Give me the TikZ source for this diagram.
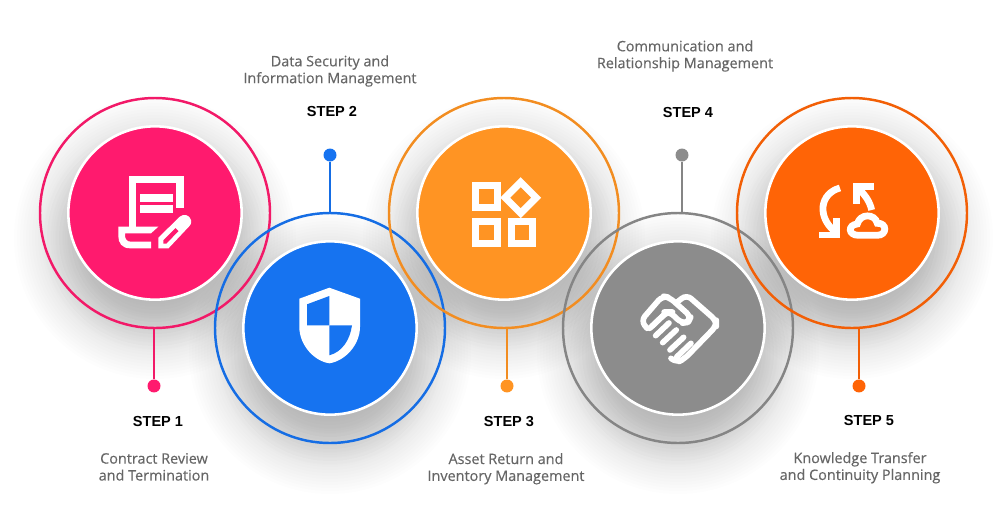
\documentclass[tikz,border=0pt]{standalone}
\usepackage{xcolor}
\usepackage{fontspec}
\setmainfont{Liberation Sans}
\newfontfamily\descfont{Open Sans}
\usetikzlibrary{positioning}
\definecolor{cpink}{HTML}{FF1A6E}
\definecolor{cblue}{HTML}{1673F0}
\definecolor{corange}{HTML}{FF9423}
\definecolor{cgray}{HTML}{8C8C8C}
\definecolor{cred}{HTML}{FF6406}
\definecolor{ctext}{HTML}{666666}

\begin{document}
\begin{tikzpicture}[
    x=0.03cm, y=-0.03cm,
    ring/.style={circle, draw=#1!95!black, line width=2.1pt, minimum size=6.9cm, inner sep=0pt},
    disc/.style={circle, draw=white, fill=#1, line width=2.2pt, minimum size=5.2cm, inner sep=0pt},
    dot/.style={circle, fill=#1, minimum size=0.39cm, inner sep=0pt},
    arr/.style={draw=#1!95!black, line width=2.1pt},
    stepname/.style={font=\fontsize{12.4}{14}\selectfont\bfseries, inner sep=0pt, align=center},
    desc/.style={font=\fontsize{12.3}{14.4}\descfont\addfontfeature{FakeBold=0.4}, text=ctext, inner sep=0pt, align=center},
    iconfill/.style={fill=white, draw=none},
    iconline/.style={draw=white, line width=6pt},
    handline/.style={draw=white, line width=4.8pt, line cap=round, line join=round},
    cycleline/.style={draw=white, line width=5.8pt}
]
    \useasboundingbox (0,0) rectangle (1000,518);

    % soft shadows under the discs
    \foreach \cx/\cy in {155/213, 330/328, 504/213, 678/328, 852/213}{
        \foreach \r in {60,63,...,141}{
            \fill [black, opacity=0.008] (\cx,\cy+25) circle (\r);
        }
        \foreach \r in {60,64,...,112}{
            \fill [black, opacity=0.009] (\cx,\cy+25) circle (\r);
        }
    }

    \node [ring=cpink] (ring1) at (155,213) {};
    \node [ring=cblue] (ring2) at (330,328) {};
    \node [ring=corange] (ring3) at (504,213) {};
    \node [ring=cgray] (ring4) at (678,328) {};
    \node [ring=cred] (ring5) at (852,213) {};

    \node [disc=cpink] (disc1) at (ring1) {};
    \node [disc=cblue] (disc2) at (ring2) {};
    \node [disc=corange] (disc3) at (ring3) {};
    \node [disc=cgray] (disc4) at (ring4) {};
    \node [disc=cred] (disc5) at (ring5) {};

    \node [dot=cpink, below=1.5cm of ring1, xshift=-0.03cm] (dot1) {};
    \node [dot=cblue, above=1.5cm of ring2] (dot2) {};
    \node [dot=corange, below=1.5cm of ring3, xshift=0.09cm] (dot3) {};
    \node [dot=cgray, above=1.5cm of ring4, xshift=0.12cm] (dot4) {};
    \node [dot=cred, below=1.5cm of ring5, xshift=0.21cm] (dot5) {};

    \draw [arr=cpink] (dot1) -- (dot1 |- ring1.south);
    \draw [arr=cblue] (dot2) -- (dot2 |- ring2.north);
    \draw [arr=corange] (dot3) -- (dot3 |- ring3.south);
    \draw [arr=cgray] (dot4) -- (dot4 |- ring4.north);
    \draw [arr=cred] (dot5) -- (dot5 |- ring5.south);

    \node [stepname, below=0.71cm of dot1, xshift=0.12cm] (step1) {STEP 1};
    \node [stepname, above=0.93cm of dot2, xshift=0.06cm] (step2) {STEP 2};
    \node [stepname, below=0.71cm of dot3, xshift=0.06cm] (step3) {STEP 3};
    \node [stepname, above=0.9cm of dot4, xshift=0.18cm] (step4) {STEP 4};
    \node [stepname, below=0.68cm of dot5, xshift=0.3cm] (step5) {STEP 5};

    \node [desc, below=0.77cm of step1, xshift=-0.12cm] (desc1) {Contract Review\\and Termination};
    \node [desc, above=0.59cm of step2, xshift=-0.06cm] (desc2) {Data Security and\\Information Management};
    \node [desc, below=0.77cm of step3, xshift=-0.09cm] (desc3) {Asset Return and\\Inventory Management};
    \node [desc, above=1.07cm of step4, xshift=-0.09cm] (desc4) {Communication and\\Relationship Management};
    \node [desc, below=0.77cm of step5, xshift=-0.27cm] (desc5) {Knowledge Transfer\\and Continuity Planning};

    % paper and pencil
    \draw [iconline] (132.5,227) -- (132.5,179.5) -- (180,179.5) -- (180,208);
    \fill [iconfill] (140,194.3) rectangle (172.7,201.7);
    \fill [iconfill] (140,205) rectangle (172.7,212.7);
    \fill [iconfill] (118.3,226.7) -- (158.3,226.7) -- (151,233.3) -- (125,233.3) -- (125,235.5)
        .. controls (125,239) and (127,241.7) .. (131,241.7) -- (151,241.7) -- (151,248.3) -- (130,248.3)
        .. controls (122,248.3) and (118.3,243) .. (118.3,236) -- cycle;
    \fill [iconfill] (158.3,248.3) -- (158.3,237.7) -- (180,216.5)
        .. controls (184,213.5) and (188,215) .. (190,218)
        .. controls (192,221) and (191.5,224) .. (189,226.5) -- (168.5,248.3) -- cycle;
    \fill [cpink] (163.3,243.5) -- (163.3,240.3) -- (175.5,228) -- (178.5,231) -- (166.5,243.5) -- cycle;

    % shield
    \fill [iconfill] (329.3,287.7) -- (360,298.7) -- (360,326.7)
        .. controls (360,345) and (345,361) .. (329.3,363.3)
        .. controls (314,361) and (299.3,345) .. (299.3,326.7) -- (299.3,298.7) -- cycle;
    \fill [cblue] (307,304.3) -- (329.3,296) -- (329.3,325.3) -- (307,325.3) -- cycle;
    \fill [cblue] (329.3,325.3) -- (352,325.3)
        .. controls (350,340) and (342,352) .. (329.3,355.3) -- cycle;

    % blocks
    \draw [iconline] (475.8,185.8) rectangle (497.2,207.5);
    \draw [iconline] (475.8,221.8) rectangle (497.2,243.2);
    \draw [iconline] (511.2,221.8) rectangle (532.8,243.2);
    \draw [iconline] (520.7,182.2) -- (536.2,197.7) -- (520.7,213.2) -- (505.2,197.7) -- cycle;

    % handshake
    \begin{scope}[shift={(635,290)}, x=0.01cm, y=-0.01cm]
        \draw [handline, rounded corners=5pt] (36,115) -- (18,92) -- (82,18) -- (103,22) -- (168,80) -- (160,97) -- (140,100) -- (105,66) -- (95,66) -- (52,108);
        \draw [handline, rounded corners=5pt] (128,35) -- (155,14) -- (244,92) -- (244,108) -- (148,207) -- (125,218) -- (108,205);
        \draw [handline] (44,115) -- (88,74);
        \draw [handline] (62,137) -- (102,99);
        \draw [handline] (83,158) -- (124,120);
        \draw [handline] (105,180) -- (146,142);
        \draw [handline] (125,201) -- (168,160);
    \end{scope}

    % arrows and cloud
    \begin{scope}[shift={(800,160)}, x=0.01cm, y=-0.01cm]
        \draw [cycleline] (58,225) -- (110,225) -- (110,175);
        \draw [cycleline] (120,84) .. controls (60,100) and (50,170) .. (105,215);
        \draw [cycleline] (222,80) -- (170,80) -- (170,132);
        \draw [cycleline] (178,88) .. controls (195,105) and (210,125) .. (215,150);
        \draw [cycleline] (175,226) -- (232,226)
            .. controls (262,226) and (262,188) .. (232,190)
            .. controls (225,160) and (180,160) .. (172,192)
            .. controls (142,195) and (145,226) .. (175,226) -- cycle;
    \end{scope}
\end{tikzpicture}
\end{document}
